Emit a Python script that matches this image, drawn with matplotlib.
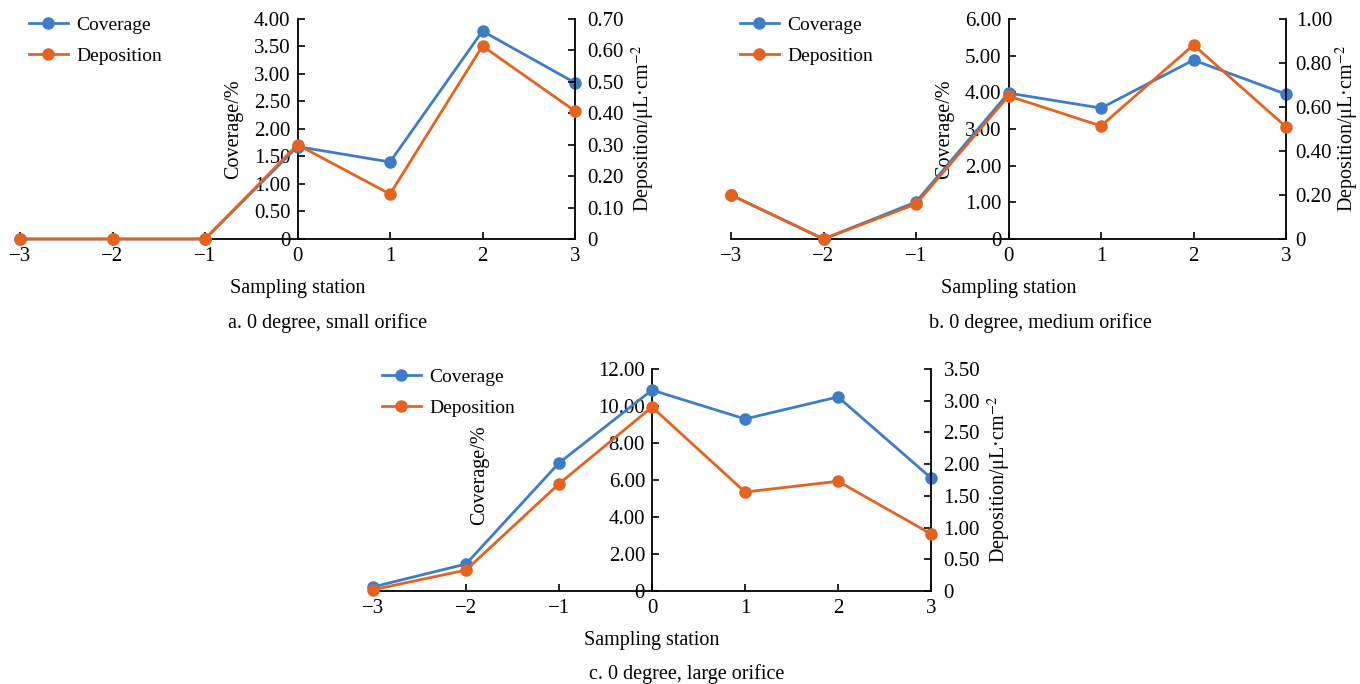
import matplotlib
matplotlib.use("Agg")
import matplotlib.pyplot as plt
from matplotlib.ticker import FuncFormatter

plt.rcParams['font.family'] = ['Liberation Serif', 'DejaVu Serif']
plt.rcParams['mathtext.fontset'] = 'stix'

stations = [-3, -2, -1, 0, 1, 2, 3]
station_labels = ["\u22123", "\u22122", "\u22121", "0", "1", "2", "3"]

cov_a = [0, 0, 0, 1.68, 1.40, 3.78, 2.84]
dep_a = [0, 0, 0, 0.30, 0.143, 0.614, 0.407]
cov_b = [1.20, 0.0, 1.01, 3.98, 3.57, 4.88, 3.95]
dep_b = [0.20, 0.0, 0.159, 0.65, 0.514, 0.882, 0.51]
cov_c = [0.22, 1.46, 6.92, 10.86, 9.30, 10.49, 6.11]
dep_c = [0.02, 0.33, 1.69, 2.90, 1.56, 1.73, 0.90]

captions = ["a. 0 degree, small orifice", "b. 0 degree, medium orifice", "c. 0 degree, large orifice"]
cov_ticks = [[0, 0.5, 1, 1.5, 2, 2.5, 3, 3.5, 4],
             [0, 1, 2, 3, 4, 5, 6],
             [0, 2, 4, 6, 8, 10, 12]]
dep_ticks = [[0, 0.1, 0.2, 0.3, 0.4, 0.5, 0.6, 0.7],
             [0, 0.2, 0.4, 0.6, 0.8, 1.0],
             [0, 0.5, 1, 1.5, 2, 2.5, 3, 3.5]]

BLUE = '#3D7CC9'
ORANGE = '#E5621F'
W, H = 1360, 684
fig = plt.figure(figsize=(W / 100, H / 100), dpi=100)

# axes rectangles in pixels: left, right, top, bottom
rects = [(20, 575, 19, 239), (731, 1286, 19, 239), (373, 931, 369, 591)]
covs = [cov_a, cov_b, cov_c]
deps = [dep_a, dep_b, dep_c]
cap_pos = [(328, 323), (1040, 323), (687, 674)]
right_pad = [4, 1.5, 4]
right_tick_pad = [9, 7, 9]

fmt = FuncFormatter(lambda v, p: "0" if abs(v) < 1e-9 else f"{v:.2f}")
TFS = 15
LFS = 14.5
GFS = 14

for i in range(3):
    l, r, t, b = rects[i]
    ax = fig.add_axes([l / W, 1 - b / H, (r - l) / W, (b - t) / H])
    ax2 = ax.twinx()
    ax.set_xlim(-3, 3)
    ax.set_ylim(cov_ticks[i][0], cov_ticks[i][-1])
    ax2.set_ylim(dep_ticks[i][0], dep_ticks[i][-1])
    ax.set_yticks(cov_ticks[i])
    ax2.set_yticks(dep_ticks[i])
    ax.yaxis.set_major_formatter(fmt)
    ax2.yaxis.set_major_formatter(fmt)
    ax.set_xticks(stations)
    ax.set_xticklabels(station_labels)

    for a in (ax, ax2):
        a.spines['top'].set_visible(False)
        a.patch.set_visible(False)
    ax.spines['right'].set_visible(False)
    ax2.spines['left'].set_visible(False)
    ax2.spines['bottom'].set_visible(False)
    ax.spines['left'].set_position(('data', 0))
    for sp in ('left', 'bottom'):
        ax.spines[sp].set_linewidth(1.3)
    ax2.spines['right'].set_linewidth(1.3)

    ax.tick_params(axis='both', direction='in', length=5, width=1.2, labelsize=TFS)
    ax.tick_params(axis='x', pad=6)
    ax.tick_params(axis='y', pad=5)
    ax2.tick_params(axis='y', direction='in', length=5, width=1.2, labelsize=TFS, pad=right_tick_pad[i])

    l1, = ax.plot(stations, covs[i], color=BLUE, lw=2, marker='o', ms=8, clip_on=False, zorder=5, label='Coverage')
    l2, = ax2.plot(stations, deps[i], color=ORANGE, lw=2, marker='o', ms=8, clip_on=False, zorder=6, label='Deposition')

    ax.set_ylabel("Coverage/%", fontsize=LFS, labelpad=8)
    if i == 2:
        ax.yaxis.set_label_coords(0.208, 0.52)
    ax2.set_ylabel("Deposition/\u03bcL\u00b7cm$^{-2}$", fontsize=LFS, labelpad=right_pad[i])
    ax.set_xlabel("Sampling station", fontsize=LFS, labelpad=9)

    ax_w = r - l
    ax_h = b - t
    ax.legend(handles=[l1, l2], loc='upper left',
              bbox_to_anchor=(9 / ax_w, 1 + (3 if i < 2 else 1) / ax_h),
              frameon=False, fontsize=GFS, handlelength=2.0, handletextpad=0.45,
              labelspacing=0.7, borderaxespad=0, borderpad=0)

    cx, cy = cap_pos[i]
    fig.text(cx / W, 1 - cy / H, captions[i], ha='center', va='center', fontsize=LFS)

fig.savefig("out.png", dpi=100)
